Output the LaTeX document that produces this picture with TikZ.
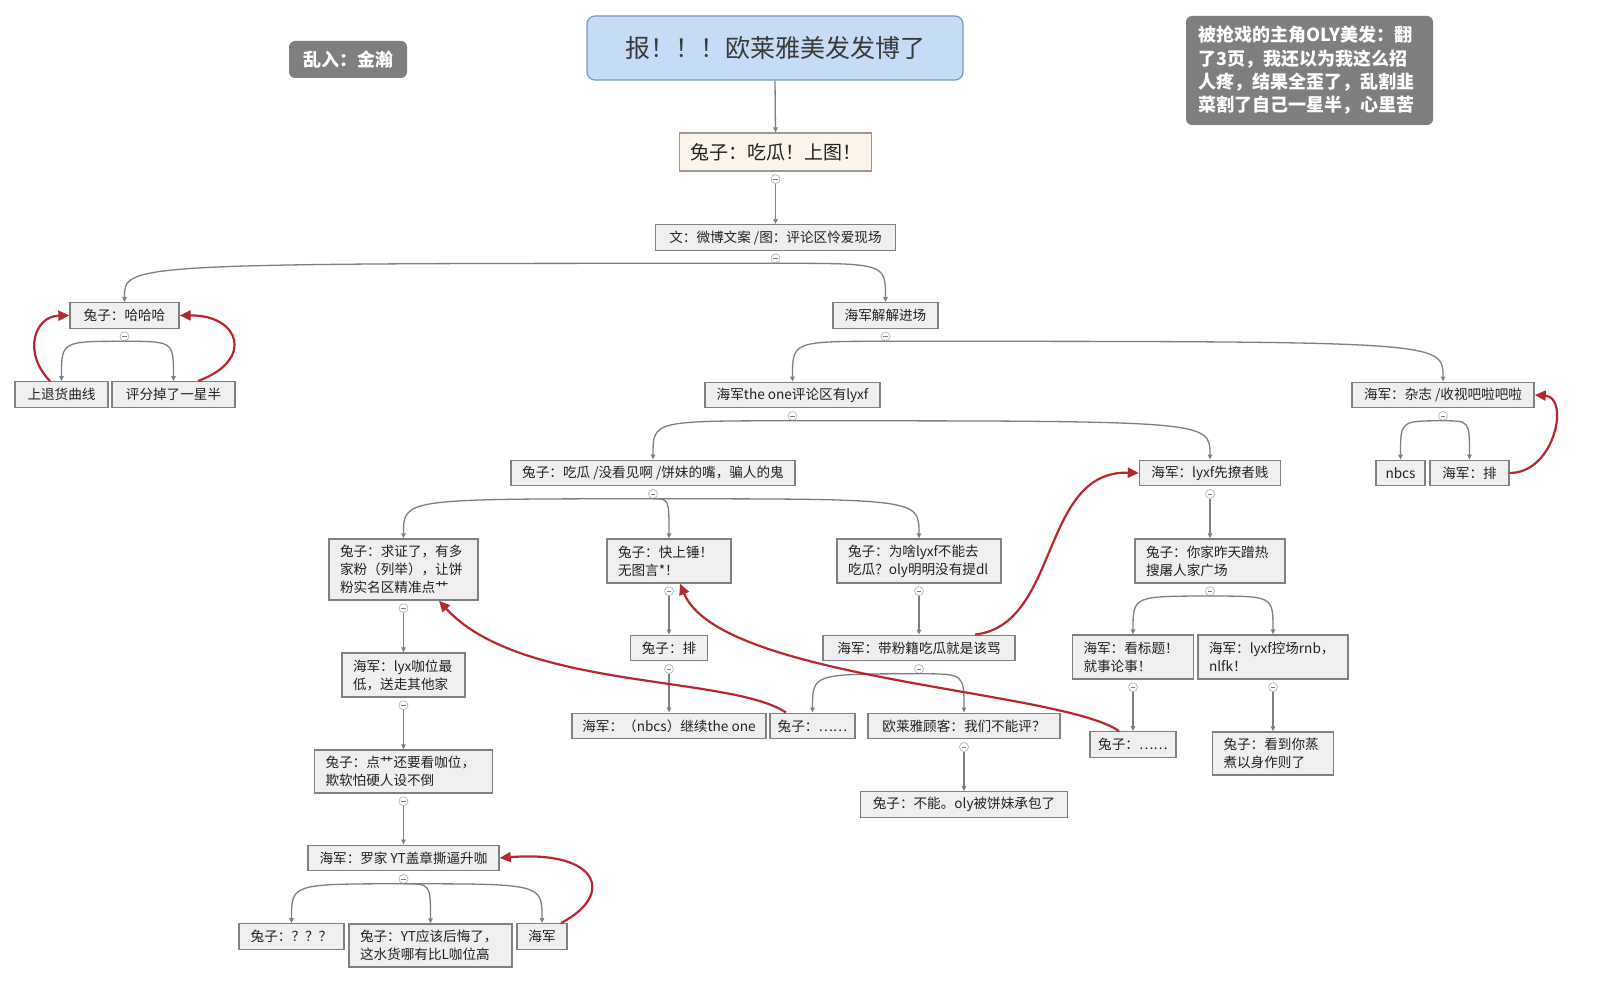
\documentclass[tikz,border=0pt]{standalone}
\usepackage{fontspec}
\setmainfont{Noto Sans CJK SC}
\usetikzlibrary{arrows.meta}
\definecolor{nodefill}{HTML}{EFEFEF}
\definecolor{nodeline}{HTML}{808080}
\definecolor{edgecol}{HTML}{7F7F7F}
\definecolor{relcol}{HTML}{B7282E}
\definecolor{titlefill}{HTML}{C6DBF6}
\definecolor{titleline}{HTML}{7696C4}
\definecolor{creamfill}{HTML}{FCF5EB}
\definecolor{notefill}{HTML}{7F7F7F}
\definecolor{cccol}{HTML}{A9B8C8}
\definecolor{txt}{HTML}{222222}
\definecolor{titletxt}{HTML}{3A3A3A}
\newcommand\tbranch[2]{\draw[ed] (#1.south) .. controls (#1.south -| #2.north) .. (#2.north);}
\newcommand\tvert[2]{\draw[ed] (#1.south) -- (#2.north);}
\begin{document}
\begin{tikzpicture}[x=1pt,y=-1pt,
  nd/.style={draw=nodeline, fill=nodefill, line width=1.4pt, inner sep=0pt, text=txt,
    font=\fontsize{13.6}{18}\selectfont, minimum height=25.5pt},
  w/.style={minimum width=#1pt},
  ml/.style={text width=#1pt, align=left, inner xsep=11pt},
  dk/.style={fill=notefill, rounded corners=6pt, text=white, inner sep=0pt,
    font=\bfseries\fontsize{18}{23.3}\selectfont},
  cc/.style={circle, draw=cccol, fill=white, line width=0.7pt, minimum size=9pt, inner sep=0pt,
    path picture={\draw[edgecol, line width=0.7pt] ([xshift=-2.4pt]path picture bounding box.center) -- ([xshift=2.4pt]path picture bounding box.center);}},
  ed/.style={draw=edgecol, line width=1.3pt, -{Triangle[length=5pt,width=4.5pt]}},
  rel/.style={draw=relcol, line width=2.2pt, -{Triangle[length=11pt,width=10pt]}}
]
\fill[white] (0,0) rectangle (1600,984);
\useasboundingbox (0,0) rectangle (1600,984);

% top notes
\node[draw=titleline, fill=titlefill, rounded corners=8pt, line width=1.2pt, minimum width=376pt,
  minimum height=64pt, inner sep=0pt, text=titletxt, font=\fontsize{25}{30}\selectfont] (T) at (775,48) {报！！！欧莱雅美发发博了};
\node[dk, minimum width=118pt, minimum height=37pt] (J) at (348,59.5) {乱入：金瀚};
\node[dk, text width=222pt, inner xsep=12.5pt, minimum height=109pt, align=left] (N) at (1309.5,70.5)
  {被抢戏的主角OLY美发：翻\\了3页，我还以为我这么招\\人疼，结果全歪了，乱割韭\\菜割了自己一星半，心里苦};

% main nodes
\node[nd, fill=creamfill, draw=nodeline!80, line width=1.2pt, w=192, minimum height=38pt, font=\fontsize{19}{22}\selectfont] (A) at (775.5,152) {兔子：吃瓜！上图！};
\node[nd, w=240] (B) at (775.5,237.5) {文：微博文案 /图：评论区怜爱现场};
\node[nd, w=109] (C) at (124.5,315.5) {兔子：哈哈哈};
\node[nd, w=105] (D) at (885.5,315.5) {海军解解进场};
\node[nd, w=93] (C1) at (61.5,394.5) {上退货曲线};
\node[nd, w=123] (C2) at (173.5,394.5) {评分掉了一星半};
\node[nd, w=175] (E) at (792.5,395) {海军the one评论区有lyxf};
\node[nd, w=182] (F) at (1443,395) {海军：杂志 /收视吧啦吧啦};
\node[nd, w=284] (G) at (653,473) {兔子：吃瓜 /没看见啊 /饼妹的嘴，骗人的鬼};
\node[nd, w=141] (H) at (1210,473) {海军：lyxf先撩者贱};
\node[nd, w=49] (F1) at (1400.5,473) {nbcs};
\node[nd, w=79] (F2) at (1469.5,473) {海军：排};

\node[nd, ml=127, minimum height=61pt] (G1) at (403.5,569.5) {兔子：求证了，有多\\家粉（列举），让饼\\粉实名区精准点艹};
\node[nd, ml=102, minimum height=44pt] (G2) at (669,561) {兔子：快上锤！\\无图言*！};
\node[nd, ml=142, minimum height=44pt] (G3) at (919,561) {兔子：为啥lyxf不能去\\吃瓜？oly明明没有提dl};
\node[nd, ml=128, minimum height=44pt] (R1) at (1210,561) {兔子：你家昨天蹭热\\搜屠人家广场};

\node[nd, w=77] (P1) at (669,648) {兔子：排};
\node[nd, w=192] (Q1) at (919,648) {海军：带粉籍吃瓜就是该骂};
\node[nd, ml=101, minimum height=44pt] (L1) at (403.5,675) {海军：lyx咖位最\\低，送走其他家};
\node[nd, ml=99, minimum height=44pt] (R2) at (1133,657) {海军：看标题！\\就事论事！};
\node[nd, ml=128, minimum height=44pt] (R3) at (1273,657) {海军：lyxf控场rnb，\\nlfk！};

\node[nd, w=194] (P2) at (669,726) {海军：（nbcs）继续the one};
\node[nd, w=85] (Q2) at (812.5,726) {兔子：……};
\node[nd, w=192] (Q3) at (964,726) {欧莱雅顾客：我们不能评？};
\node[nd, w=86] (R4) at (1133,744.5) {兔子：……};
\node[nd, ml=99, minimum height=43pt] (R5) at (1273,753.5) {兔子：看到你蒸\\煮以身作则了};
\node[nd, ml=156, minimum height=43pt] (L2) at (403.5,771.5) {兔子：点艹还要看咖位，\\欺软怕硬人设不倒};
\node[nd, w=207] (Q4) at (964,804.5) {兔子：不能。oly被饼妹承包了};
\node[nd, w=191] (L3) at (403.5,858) {海军：罗家 YT盖章撕逼升咖};
\node[nd, w=105] (K1) at (291.5,936.5) {兔子：？？？};
\node[nd, ml=141, minimum height=43pt] (K2) at (430.5,945.5) {兔子：YT应该后悔了，\\这水货哪有比L咖位高};
\node[nd, w=50] (K3) at (542,936.5) {海军};

% collapse circles
\foreach \p in {A,B,C,D,E,F,G,H,G1,G2,G3,R1,P1,Q1,L1,R2,R3,Q3,L2,L3}{
  \node[cc] (\p o) at ([yshift=-7.5pt]\p.south) {};
}

% tree connectors
\draw[ed] (T.south) -- (A.north);
\tvert{Ao}{B}
\tbranch{Bo}{C}
\tbranch{Bo}{D}
\tbranch{Co}{C1}
\tbranch{Co}{C2}
\tbranch{Do}{E}
\tbranch{Do}{F}
\tbranch{Fo}{F1}
\tbranch{Fo}{F2}
\tbranch{Eo}{G}
\tbranch{Eo}{H}
\tbranch{Go}{G1}
\tbranch{Go}{G2}
\tbranch{Go}{G3}
\tvert{Ho}{R1}
\tvert{G1o}{L1}
\tvert{L1o}{L2}
\tvert{L2o}{L3}
\tbranch{L3o}{K1}
\tbranch{L3o}{K2}
\tbranch{L3o}{K3}
\tvert{G2o}{P1}
\tvert{P1o}{P2}
\tvert{G3o}{Q1}
\tbranch{Q1o}{Q2}
\tbranch{Q1o}{Q3}
\tvert{Q3o}{Q4}
\tbranch{R1o}{R2}
\tbranch{R1o}{R3}
\tvert{R2o}{R4}
\tvert{R3o}{R5}

% relationship arrows
\draw[rel] ([xshift=-11.5pt]C1.north) .. controls (22,352) and (35,316) .. (C.west);
\draw[rel] ([xshift=24.5pt]C2.north) .. controls (255,360) and (240,315) .. (C.east);
\draw[rel] (F2.east) .. controls (1555,473) and (1570,397) .. (F.east);
\draw[rel] ([xshift=56pt]Q1.north) .. controls (1060,625) and (1040,470) .. (H.west);
\draw[rel] ([xshift=-26.5pt]Q2.north) .. controls (730,675) and (520,690) .. ([xshift=35.5pt]G1.south);
\draw[rel] ([xshift=-14pt]R4.north) .. controls (1060,690) and (720,680) .. ([xshift=11pt]G2.south);
\draw[rel] ([xshift=19pt]K3.north) .. controls (615,895) and (600,850) .. (L3.east);
\end{tikzpicture}
\end{document}
